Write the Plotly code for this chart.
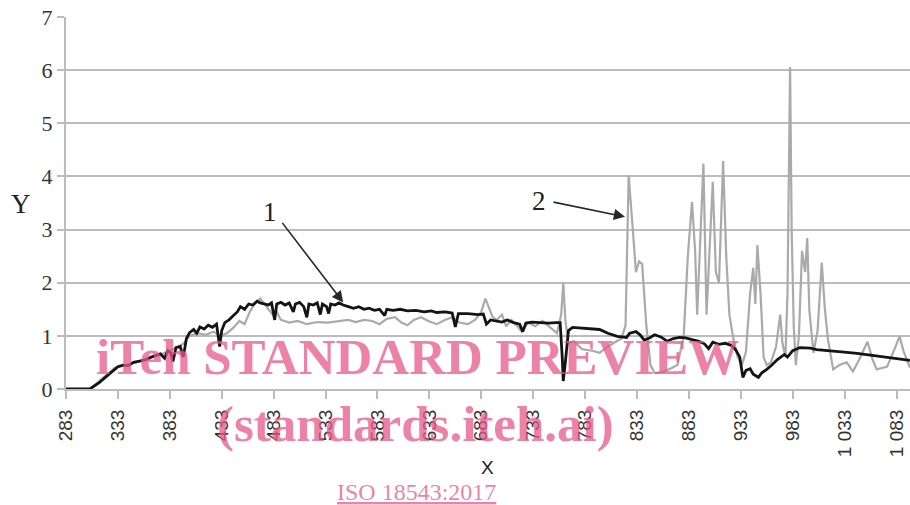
import plotly.graph_objects as go

# Series 1 (black curve)
x1 = [283, 295, 306, 315, 325, 333, 338, 343, 348, 354, 360, 365, 370, 374, 378, 381, 384, 386,
      389, 393, 396, 399, 402, 406, 409, 412, 416, 420, 424, 428, 431, 433, 436, 440, 444, 448,
      451, 455, 459, 463, 467, 470, 474, 478, 481, 484, 486, 490, 494, 498, 502, 504, 508, 512,
      515, 517, 521, 525, 528, 530, 534, 536, 538, 542, 546, 550, 555, 560, 565, 570, 575, 580,
      585, 590, 592, 598, 605, 612, 620, 628, 635, 640, 648, 655, 658, 661, 670, 680, 685, 688,
      692, 697, 703, 708, 714, 720, 723, 726, 732, 740, 748, 755, 759, 761, 762, 764, 767, 771,
      780, 790, 797, 805, 814, 823, 826, 832, 836, 840, 845, 850, 856, 862, 868, 874, 880, 886,
      892, 898, 902, 906, 912, 918, 924, 928, 932, 935, 938, 942, 945, 950, 953, 958, 963, 968,
      972, 975, 978, 983, 990, 995, 1000, 1006, 1015, 1030, 1045, 1060, 1075, 1085, 1096]
y1 = [0.00, 0.00, 0.00, 0.12, 0.28, 0.42, 0.45, 0.44, 0.50, 0.52, 0.55, 0.60, 0.63, 0.66, 0.58,
      0.72, 0.68, 0.52, 0.78, 0.80, 0.60, 0.95, 1.06, 1.12, 1.05, 1.17, 1.13, 1.20, 1.16, 1.22,
      0.80, 1.10, 1.25, 1.30, 1.38, 1.45, 1.55, 1.50, 1.60, 1.58, 1.65, 1.62, 1.60, 1.58, 1.62,
      1.30, 1.60, 1.63, 1.58, 1.62, 1.45, 1.60, 1.63, 1.55, 1.35, 1.60, 1.58, 1.62, 1.40, 1.60,
      1.55, 1.42, 1.60, 1.58, 1.62, 1.58, 1.55, 1.52, 1.55, 1.50, 1.52, 1.48, 1.50, 1.38, 1.50,
      1.48, 1.50, 1.47, 1.48, 1.45, 1.47, 1.44, 1.45, 1.43, 1.17, 1.42, 1.42, 1.40, 1.41, 1.22,
      1.30, 1.28, 1.26, 1.30, 1.25, 1.22, 1.08, 1.24, 1.26, 1.25, 1.24, 1.25, 1.25, 0.60, 0.15,
      0.50, 1.10, 1.16, 1.15, 1.13, 1.12, 1.05, 0.99, 0.97, 1.05, 1.08, 1.02, 0.92, 0.96, 1.02,
      0.98, 0.90, 0.95, 0.97, 0.96, 0.93, 0.90, 0.85, 0.76, 0.88, 0.84, 0.86, 0.82, 0.74, 0.60,
      0.22, 0.35, 0.38, 0.28, 0.22, 0.30, 0.37, 0.45, 0.55, 0.60, 0.65, 0.60, 0.72, 0.78, 0.78,
      0.77, 0.74, 0.73, 0.70, 0.67, 0.63, 0.59, 0.57, 0.54]

# Series 2 (grey curve)
x2 = [283, 306, 330, 354, 374, 386, 396, 402, 410, 418, 425, 432, 438, 444, 450, 455, 460, 465,
      470, 474, 478, 482, 486, 490, 498, 506, 515, 525, 535, 545, 555, 562, 570, 578, 585, 592,
      600, 606, 612, 618, 625, 632, 640, 648, 655, 662, 670, 677, 683, 687, 690, 694, 698, 703,
      707, 712, 717, 722, 728, 735, 742, 750, 756, 760, 762, 764, 767, 772, 780, 790, 797, 805,
      812, 818, 822, 825, 829, 832, 835, 838, 842, 846, 850, 858, 865, 872, 878, 882, 886, 889,
      891, 894, 897, 900, 903, 906, 909, 912, 916, 919, 922, 926, 930, 934, 938, 942, 945, 947,
      949, 952, 955, 958, 962, 967, 971, 973, 976, 978, 980.5, 982, 984, 986, 989, 992, 995, 997,
      999, 1003, 1007, 1011, 1014, 1017, 1022, 1028, 1035, 1041, 1047, 1055, 1060, 1064, 1070,
      1074, 1080, 1086, 1090, 1096]
y2 = [0.00, 0.00, 0.40, 0.52, 0.65, 0.75, 0.85, 1.00, 1.05, 1.02, 1.08, 1.00, 1.05, 1.15, 1.28,
      1.22, 1.45, 1.62, 1.70, 1.60, 1.50, 1.40, 1.45, 1.30, 1.25, 1.28, 1.22, 1.26, 1.25, 1.28,
      1.30, 1.26, 1.30, 1.28, 1.22, 1.32, 1.35, 1.25, 1.20, 1.30, 1.35, 1.28, 1.22, 1.30, 1.35,
      1.25, 1.22, 1.30, 1.45, 1.70, 1.55, 1.35, 1.30, 1.40, 1.18, 1.30, 1.20, 1.08, 1.25, 1.18,
      1.28, 1.15, 1.05, 1.40, 2.00, 1.30, 0.85, 0.90, 0.75, 0.72, 0.68, 0.80, 0.88, 0.95, 1.20,
      4.02, 3.00, 2.20, 2.40, 2.35, 1.20, 0.45, 0.30, 0.32, 0.38, 0.45, 1.00, 2.50, 3.52, 2.60,
      1.40, 2.80, 4.24, 1.40, 2.60, 3.90, 2.20, 2.00, 4.29, 2.50, 1.40, 0.93, 0.60, 0.45, 0.70,
      1.80, 2.28, 1.60, 2.71, 1.80, 0.60, 0.45, 0.50, 0.80, 1.40, 0.88, 0.60, 1.80, 6.06, 3.00,
      1.20, 0.45, 1.00, 2.60, 2.20, 2.84, 1.50, 0.68, 1.10, 2.38, 1.50, 0.93, 0.37, 0.45, 0.50,
      0.33, 0.55, 0.89, 0.55, 0.37, 0.40, 0.42, 0.70, 0.99, 0.70, 0.40]

x_ticks = list(range(283, 1084, 50))
x_ticktext = [f"{v // 1000} {v % 1000:03d}" if v >= 1000 else str(v) for v in x_ticks]
y_ticks = list(range(0, 8))

W, H = 910, 505
L, R, T, B = 66, 0, 17, 116
PW, PH = W - L - R, H - T - B


def px(xp):
    return (xp - L) / PW


def py(yp):
    return (H - B - yp) / PH


GRID = "rgb(188,188,188)"
PINK = "rgba(230,88,135,0.75)"

fig = go.Figure()
fig.add_trace(go.Scatter(x=x2, y=y2, mode="lines",
                         line=dict(color="rgb(170,170,170)", width=2.2), showlegend=False))
fig.add_trace(go.Scatter(x=x1, y=y1, mode="lines",
                         line=dict(color="rgb(20,20,20)", width=2.8), showlegend=False))


def label(xp, yp, text, family, size, color="#222"):
    return dict(x=px(xp), y=py(yp), xref="paper", yref="paper", text=text, showarrow=False,
                xanchor="center", yanchor="middle",
                font=dict(family=family, size=size, color=color))


annotations = [
    # leader arrows for the two curves
    dict(x=550, y=1.63, xref="x", yref="y", ax=-62, ay=-81, text="", showarrow=True,
         arrowhead=2, arrowsize=1.4, arrowwidth=1.6, arrowcolor="rgb(40,40,40)"),
    dict(x=821.5, y=3.24, xref="x", yref="y", ax=-73, ay=-15, text="", showarrow=True,
         arrowhead=2, arrowsize=1.4, arrowwidth=1.6, arrowcolor="rgb(40,40,40)"),
    label(270, 212, "1", "Liberation Serif", 27),
    label(539, 201, "2", "Liberation Serif", 27),
    # axis titles
    label(21, 204, "Y", "Liberation Serif", 27),
    label(487, 467, "X", "Liberation Sans", 19),
    # pink overlay text
    label(417, 357, "<b>iTeh STANDARD PREVIEW</b>", "Liberation Serif", 51, PINK),
    label(415, 424, "<b>(standards.iteh.ai)</b>", "Liberation Serif", 51, PINK),
    label(416, 492, "<u>ISO 18543:2017</u>", "Liberation Serif", 24, PINK),
]

fig.update_layout(
    width=W, height=H,
    margin=dict(l=L, r=R, t=T, b=B, pad=0),
    paper_bgcolor="white", plot_bgcolor="white",
    annotations=annotations,
    xaxis=dict(range=[283, 1096], tickmode="array", tickvals=x_ticks, ticktext=x_ticktext,
               tickangle=-90, ticks="outside", ticklen=8, tickwidth=2, tickcolor=GRID,
               showline=True, linecolor=GRID, linewidth=2, showgrid=False, zeroline=False,
               ticklabelstandoff=3,
               tickfont=dict(family="Liberation Sans", size=19, color="#333")),
    yaxis=dict(range=[0, 7], tickmode="array", tickvals=y_ticks,
               ticks="outside", ticklen=7, tickwidth=2, tickcolor=GRID,
               showline=True, linecolor=GRID, linewidth=2, showgrid=True, gridcolor=GRID,
               gridwidth=2, zeroline=False,
               tickfont=dict(family="Liberation Serif", size=22, color="#333")),
)

fig.write_html("out.html")
